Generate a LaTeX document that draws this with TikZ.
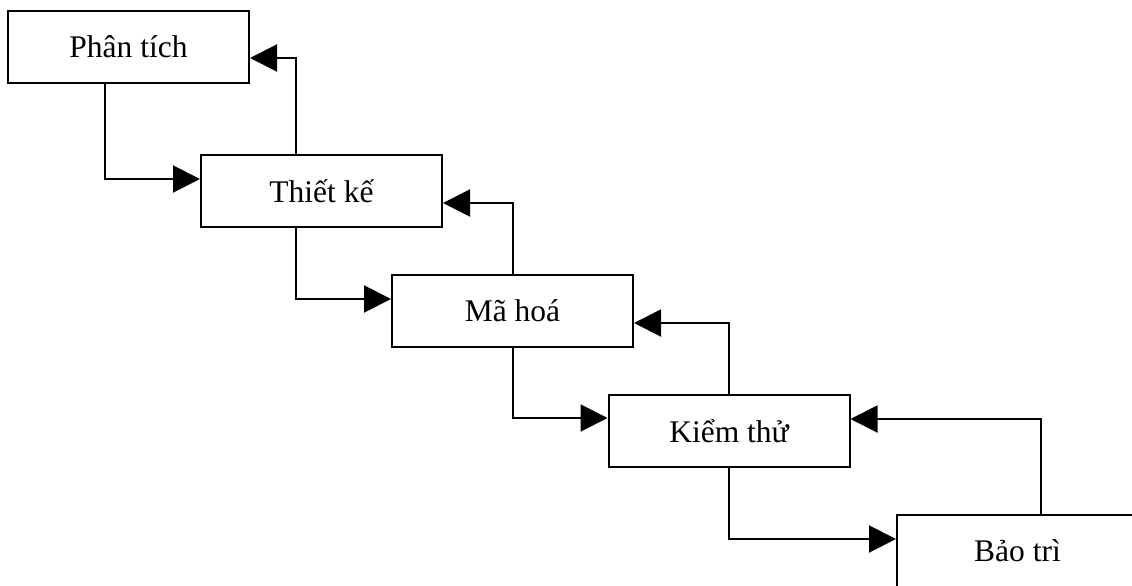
\documentclass[tikz,border=0pt]{standalone}
\usepackage{fontspec}
\setmainfont{Liberation Serif}
\usetikzlibrary{arrows.meta}
\begin{document}
\begin{tikzpicture}[x=1pt,y=-1pt,
  stage/.style={draw=black,line width=2pt,fill=white,minimum width=241pt,minimum height=72pt,inner sep=0pt,font=\fontsize{31.5}{38}\selectfont},
  arr/.style={line width=2pt,-{Triangle[length=27pt,width=27pt]}}]
\useasboundingbox[fill=white] (0,0) rectangle (1132,586);
\node[stage] (b1) at (128.5,47) {Phân tích};
\node[stage] (b2) at (321.5,191) {Thiết kế};
\node[stage] (b3) at (512.5,311) {Mã hoá};
\node[stage] (b4) at (729,431) {Kiểm thử};
\node[stage] (b5) at (1017.5,551) {Bảo trì};
\draw[arr] ([xshift=-23.5pt]b1.south) |- ([yshift=12pt]b2.west);
\draw[arr] ([xshift=-25.5pt]b2.north) |- ([yshift=-11pt]b1.east);
\draw[arr] ([xshift=-25.5pt]b2.south) |- ([yshift=12pt]b3.west);
\draw[arr] ([xshift=0.5pt]b3.north) |- ([yshift=-12pt]b2.east);
\draw[arr] ([xshift=0.5pt]b3.south) |- ([yshift=13pt]b4.west);
\draw[arr] (b4.north) |- ([yshift=-12pt]b3.east);
\draw[arr] (b4.south) |- ([yshift=12pt]b5.west);
\draw[arr] ([xshift=23.5pt]b5.north) |- ([yshift=12pt]b4.east);
\end{tikzpicture}
\end{document}
